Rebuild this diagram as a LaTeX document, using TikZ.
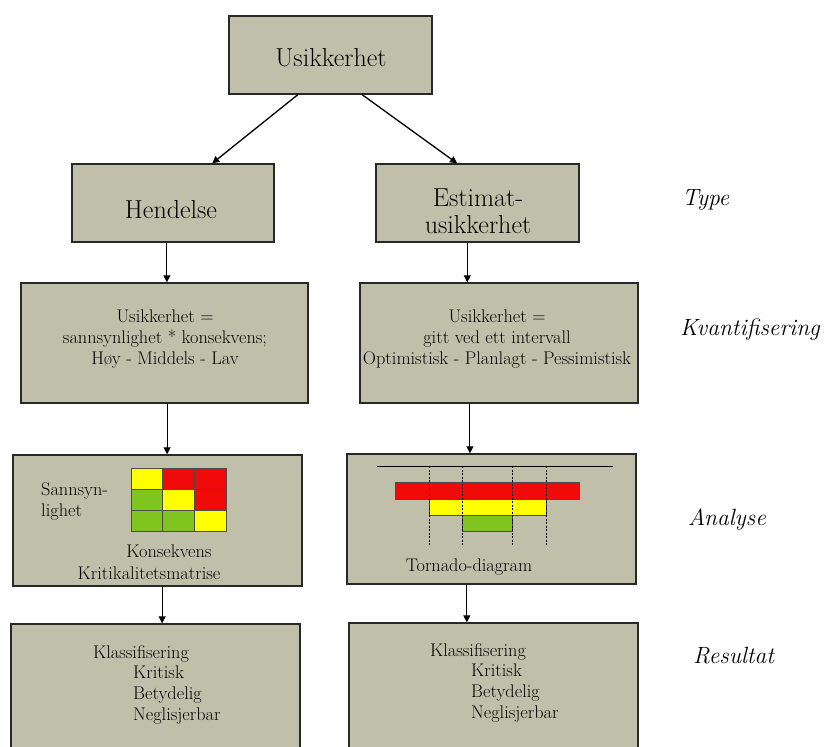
\documentclass[tikz,border=0pt]{standalone}
\usetikzlibrary{arrows.meta,calc}
\definecolor{boxfill}{RGB}{192,192,170}
\definecolor{boxline}{RGB}{40,40,40}
\definecolor{cellred}{RGB}{240,10,10}
\definecolor{cellyellow}{RGB}{255,255,0}
\definecolor{cellgreen}{RGB}{128,196,32}
\tikzset{
  panel/.style={draw=boxline, line width=1.4pt, fill=boxfill, inner sep=0pt},
  arr/.style={-{Triangle[width=7pt,length=7pt]}, line width=1pt, black},
  bigtxt/.style={font=\fontsize{26}{27}\selectfont, align=center, inner sep=0pt},
  midtxt/.style={font=\fontsize{18.3}{21}\selectfont, align=center, inner sep=0pt},
  rowlabel/.style={font=\fontsize{23.5}{26}\selectfont\itshape, anchor=base west, inner sep=0pt},
  cell/.style={draw=black!70, line width=0.8pt},
  gridline/.style={dashed, line width=0.8pt, dash pattern=on 2pt off 1.5pt},
}
\newcommand{\panelbox}[5]{% name, x1, y1, x2, y2
  \node[panel, minimum width={#4-#2}, minimum height={#5-#3}] (#1) at ({(#2+#4)/2},{(#3+#5)/2}) {};}
\begin{document}
\begin{tikzpicture}[x=1pt,y=-1pt]
\useasboundingbox (0,0) rectangle (825,747);
\fill[white] (0,0) rectangle (825,747);

% boxes
\panelbox{top}{229}{16}{432}{94}
\panelbox{hend}{72}{164}{274}{242}
\panelbox{est}{376}{164}{579}{242}
\panelbox{kvL}{21}{283}{308}{403}
\panelbox{kvR}{360}{283}{638}{403}
\panelbox{anL}{13}{455}{302}{586}
\panelbox{anR}{347}{454}{636}{584}
\panelbox{resL}{11}{624}{300}{760}
\panelbox{resR}{349}{623}{638}{760}

% headings
\node[bigtxt] (ttop) at (331,58) {Usikkerhet};
\node[bigtxt] (thend) at (171,210) {Hendelse};
\node[bigtxt] (test) at (478,211) {Estimat-\\usikkerhet};

% quantification texts
\node[midtxt, anchor=north] (tkvL) at (165,310) {Usikkerhet =\\sannsynlighet * konsekvens;\\Høy - Middels - Lav};
\node[midtxt, anchor=north] (tkvR) at (497,310) {Usikkerhet =\\gitt ved ett intervall\\Optimistisk - Planlagt - Pessimistisk};

% criticality matrix
\foreach \c [count=\i from 0] in {cellyellow,cellred,cellred}
  \filldraw[cell, fill=\c] ({131+\i*31.7},468) rectangle ++(31.7,21);
\foreach \c [count=\i from 0] in {cellgreen,cellyellow,cellred}
  \filldraw[cell, fill=\c] ({131+\i*31.7},489) rectangle ++(31.7,21);
\foreach \c [count=\i from 0] in {cellgreen,cellgreen,cellyellow}
  \filldraw[cell, fill=\c] ({131+\i*31.7},510) rectangle ++(31.7,21);
\node[midtxt, align=left, anchor=west] (tsann) at (41,501) {Sannsyn-\\lighet};
\node[midtxt] (tkons) at (169,551) {Konsekvens};
\node[midtxt] (tkrit) at (149,573) {Kritikalitetsmatrise};

% tornado diagram
\draw[line width=1pt] (377,466) -- (613,466);
\filldraw[cell, fill=cellred] (395,482) rectangle (579,499);
\filldraw[cell, fill=cellyellow] (429,499) rectangle (546,515);
\filldraw[cell, fill=cellgreen] (462,515) rectangle (512,531);
\foreach \x in {429,462,512,546}
  \draw[gridline] (\x,466) -- (\x,545);
\node[midtxt] (ttorn) at (469,567) {Tornado-diagram};

% result texts
\node[midtxt, anchor=west] (tklL) at (93,654) {Klassifisering};
\node[midtxt, align=left, anchor=north west] (tlistL) at (133,666) {Kritisk\\Betydelig\\Neglisjerbar};
\node[midtxt, anchor=west] (tklR) at (430,652) {Klassifisering};
\node[midtxt, align=left, anchor=north west] (tlistR) at (471,664) {Kritisk\\Betydelig\\Neglisjerbar};

% row labels
\node[rowlabel] (lType) at (682,205) {Type};
\node[rowlabel] (lKvant) at (680,335) {Kvantifisering};
\node[rowlabel] (lAnal) at (688,525) {Analyse};
\node[rowlabel] (lRes) at (693,663) {Resultat};

% connectors
\draw[arr, line width=1.3pt] ($(top.south west)!0.34!(top.south east)$) -- ($(hend.north west)!0.693!(hend.north east)$);
\draw[arr, line width=1.3pt] ($(top.south west)!0.655!(top.south east)$) -- ($(est.north west)!0.4!(est.north east)$);
\draw[arr] ($(hend.south west)!0.47!(hend.south east)$) coordinate (h1) -- (h1 |- kvL.north);
\draw[arr] ($(est.south west)!0.45!(est.south east)$) coordinate (e1) -- (e1 |- kvR.north);
\draw[arr] ($(kvL.south west)!0.509!(kvL.south east)$) coordinate (k1) -- (k1 |- anL.north);
\draw[arr] ($(kvR.south west)!0.396!(kvR.south east)$) coordinate (k2) -- (k2 |- anR.north);
\draw[arr] ($(anL.south west)!0.516!(anL.south east)$) coordinate (a1) -- (a1 |- resL.north);
\draw[arr] ($(anR.south west)!0.415!(anR.south east)$) coordinate (a2) -- (a2 |- resR.north);
\end{tikzpicture}
\end{document}
